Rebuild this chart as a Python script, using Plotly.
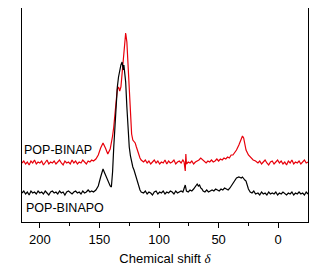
import plotly.graph_objects as go

# Chemical shift (ppm) and intensity, typed segment by segment
red_shift = ([215, 213.5, 212, 210.5, 209, 207.5, 206, 204.5, 203, 201.5, 200, 198.5, 197, 195.5, 194, 192.5,
              191, 189.5, 188, 186.5, 185, 183.5, 182, 180.5, 179, 177.5, 176, 174.5, 173, 171.5, 170, 168.5,
              167, 165.5, 164, 162.5, 161, 159.5, 158, 156.5, 155]
             + [153, 151, 149, 147, 145, 143, 141, 140, 139, 138, 137, 136, 135, 134, 133, 132, 131, 130, 129,
                128, 127, 126, 125, 124, 123, 122, 121, 120, 119, 118, 117, 116, 115]
             + [113, 111.5, 110, 108.5, 107, 105.5, 104, 102.5, 101, 99.5, 98, 96.5, 95, 93.5, 92, 90.5, 89,
                87.5, 86, 84.5, 83, 81.5, 80, 79]
             + [78, 77.5, 77, 75.5, 74, 72.5, 71, 69.5, 68, 66.5, 65, 63.5, 62, 60.5, 59, 57.5, 56, 54.5, 53,
                51.5, 50, 48.5, 47, 45.5, 44, 42.5, 41, 39.5, 38, 36.5, 35, 33, 31, 30, 29, 28, 27, 25, 23, 21, 19]
             + [17, 15.5, 14, 12.5, 11, 9.5, 8, 6.5, 5, 3.5, 2, 0.5, -1, -2.5, -4, -5.5, -7, -8.5, -10, -11.5,
                -13, -14.5, -16, -17.5, -19, -20.5, -22, -23.5, -25])
red_int = ([59, 61, 58, 60, 57, 61, 59, 62, 58, 60, 59, 61, 57, 60, 62, 58, 60, 59, 61, 58, 60, 62, 59, 57,
            61, 59, 60, 58, 62, 59, 61, 58, 60, 59, 62, 60, 58, 61, 60, 62, 61]
           + [63, 67, 74, 79, 74, 68, 73, 78, 86, 95, 110, 122, 133, 135, 131, 135, 148, 162, 178, 189, 180,
              155, 125, 100, 88, 82, 80, 79, 75, 71, 67, 64, 62]
           + [60, 62, 59, 61, 58, 60, 62, 59, 61, 58, 60, 59, 62, 58, 61, 59, 60, 62, 58, 60, 61, 59, 62, 60]
           + [51, 68, 58, 60, 59, 61, 58, 60, 61, 62, 64, 62, 60, 59, 61, 60, 62, 60, 61, 63, 61, 63, 62, 64,
              63, 65, 64, 67, 67, 69, 72, 77, 83, 86, 84, 79, 72, 67, 64, 62, 61]
           + [59, 61, 58, 60, 62, 59, 57, 60, 61, 58, 60, 62, 59, 61, 58, 60, 57, 61, 59, 62, 58, 60, 59, 61,
              58, 60, 62, 59, 60])

black_shift = ([215, 213.5, 212, 210.5, 209, 207.5, 206, 204.5, 203, 201.5, 200, 198.5, 197, 195.5, 194, 192.5,
                191, 189.5, 188, 186.5, 185, 183.5, 182, 180.5, 179, 177.5, 176, 174.5, 173, 171.5, 170, 168.5,
                167, 165.5, 164, 162.5, 161, 159.5, 158, 156.5, 155]
               + [153, 151, 149, 147, 146, 145, 143, 141, 140, 139, 138, 137, 136, 135, 134, 133, 132, 131,
                  130.5, 130, 129.5, 129, 128, 127, 126, 125, 124, 123, 122, 121, 120, 119, 118, 117, 116, 115]
               + [113, 111.5, 110, 108.5, 107, 105.5, 104, 102.5, 101, 99.5, 98, 96.5, 95, 93.5, 92, 90.5, 89,
                  87.5, 86, 84.5, 83, 81.5]
               + [80, 79, 78, 77, 75.5, 74, 72.5, 71, 69.5, 68, 67, 66, 65, 64, 63, 61.5, 60, 58.5, 57, 55.5,
                  54, 52.5, 51, 49.5, 48, 46.5, 45, 43.5, 42, 40.5, 39, 37, 35, 33, 31, 30, 29, 28, 27, 26, 25,
                  23.5, 22, 20.5, 19]
               + [17, 15.5, 14, 12.5, 11, 9.5, 8, 6.5, 5, 3.5, 2, 0.5, -1, -2.5, -4, -5.5, -7, -8.5, -10, -11.5,
                  -13, -14.5, -16, -17.5, -19, -20.5, -22, -23.5, -25])
black_int = ([29, 31, 28, 30, 27, 31, 29, 30, 28, 31, 29, 30, 28, 31, 29, 27, 30, 31, 29, 30, 28, 31, 29, 30,
              27, 30, 31, 29, 28, 30, 31, 29, 30, 28, 31, 29, 30, 32, 30, 31, 30]
             + [32, 36, 45, 53, 50, 47, 40, 36, 35, 50, 75, 100, 120, 135, 145, 152, 157, 160, 156, 152, 157,
                153, 140, 115, 90, 75, 66, 58, 55, 52, 48, 45, 40, 35, 32, 30]
             + [29, 31, 28, 30, 29, 27, 30, 31, 28, 30, 29, 31, 28, 30, 29, 31, 30, 28, 31, 29, 30, 31]
             + [30, 33, 37, 31, 30, 32, 31, 33, 35, 38, 36, 37, 34, 33, 31, 30, 32, 30, 31, 32, 31, 33, 32, 31,
                33, 32, 34, 33, 32, 34, 37, 41, 44, 45, 44, 45, 43, 42, 41, 36, 33, 30, 29, 31, 28]
             + [29, 27, 30, 28, 29, 27, 30, 28, 29, 28, 30, 27, 29, 28, 30, 28, 27, 29, 28, 30, 27, 29, 28, 30,
                28, 29, 27, 30, 28])

assert len(red_shift) == len(red_int)
assert len(black_shift) == len(black_int)

series_names = ["POP-BINAP", "POP-BINAPO"]
tick_vals = [200, 150, 100, 50, 0]

fig = go.Figure()
fig.add_trace(go.Scatter(x=red_shift, y=red_int, mode="lines", name=series_names[0],
                         line=dict(color="#e8000b", width=1.2)))
fig.add_trace(go.Scatter(x=black_shift, y=black_int, mode="lines", name=series_names[1],
                         line=dict(color="black", width=1.2)))

fig.add_annotation(text=series_names[0], xref="paper", yref="paper", x=0.0, y=(222 - 150) / 214,
                   xanchor="left", yanchor="middle", showarrow=False,
                   font=dict(family="Liberation Sans, Arial", size=12.5, color="black"))
fig.add_annotation(text=series_names[1], xref="paper", yref="paper", x=0.008, y=(222 - 208) / 214,
                   xanchor="left", yanchor="middle", showarrow=False,
                   font=dict(family="Liberation Sans, Arial", size=12.5, color="black"))

# The page body keeps an 8 px margin, so the figure is sized to the space left
fig.update_layout(
    width=323, height=258,
    margin=dict(l=14, r=23, t=0, b=44),
    paper_bgcolor="white", plot_bgcolor="white",
    showlegend=False,
    font=dict(family="Liberation Sans, Arial", size=13, color="black"),
)
fig.update_xaxes(
    range=[215, -25], tickvals=tick_vals, ticks="outside", ticklen=5, tickwidth=1,
    tickcolor="black", showline=True, linecolor="black", linewidth=1, mirror=True,
    showgrid=False, zeroline=False,
    minor=dict(tickvals=[175, 125, 75, 25], ticks="outside", ticklen=3, tickcolor="black"),
    title=dict(text="Chemical shift <span style='font-family:Liberation Serif'><i>δ</i></span>",
               font=dict(size=13), standoff=8),
    tickfont=dict(size=13),
)
fig.update_yaxes(
    range=[0, 214], showticklabels=False, ticks="", showline=True, linecolor="black",
    linewidth=1, mirror=True, showgrid=False, zeroline=False,
)

fig.write_html("out.html")
